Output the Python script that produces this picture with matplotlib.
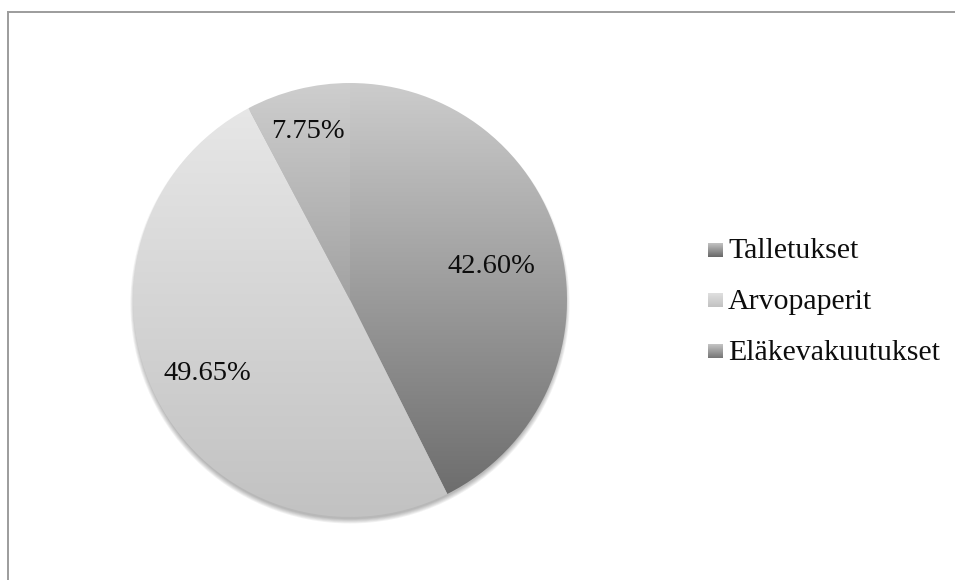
import numpy as np
import matplotlib
matplotlib.use("Agg")
import matplotlib.pyplot as plt
from matplotlib.patches import Circle

categories = ["Talletukset", "Arvopaperit", "Eläkevakuutukset"]
shares = [42.60, 49.65, 7.75]

# grey levels of each slice's vertical gradient (top, bottom)
grad_top = [204, 233, 206]
grad_bottom = [104, 194, 118]
# radial position of each percentage label (fraction of radius)
label_dist = [0.67, 0.74, 0.80]

W, H, DPI = 955, 580, 100
FONT = "Liberation Serif"

fig = plt.figure(figsize=(W / DPI, H / DPI), dpi=DPI)
fig.patch.set_facecolor("white")

cx, cy, r = 350, 300, 217
ax = fig.add_axes([(cx - r) / W, (H - cy - r) / H, 2 * r / W, 2 * r / H])

wedges, _ = ax.pie(shares, startangle=90, counterclock=False, radius=1,
                   wedgeprops=dict(linewidth=0))
ax.set_xlim(-1, 1)
ax.set_ylim(-1, 1)
ax.set_aspect("equal")
ax.axis("off")

# soft drop shadow below the pie
for k in range(6):
    ax.add_patch(Circle((0.0, -0.018), 0.992 + k * 0.004, color="black",
                        alpha=0.05, lw=0, zorder=0, clip_on=False))


def gradient(top, bottom, n=256):
    g = np.linspace(top, bottom, n) / 255.0
    return np.repeat(g[:, None, None], 3, axis=2)


for w, t, b in zip(wedges, grad_top, grad_bottom):
    w.set_facecolor("none")
    w.set_zorder(2)
    im = ax.imshow(gradient(t, b), extent=(-1, 1, -1, 1), origin="upper",
                   aspect="auto", interpolation="bilinear", zorder=1)
    im.set_clip_path(w)

for w, v, d in zip(wedges, shares, label_dist):
    ang = np.deg2rad((w.theta1 + w.theta2) / 2)
    ax.text(d * np.cos(ang), d * np.sin(ang), f"{v:.2f}%", ha="center",
            va="center", fontsize=20.5, family=FONT, color="#0d0d0d", zorder=3)

# overlay in pixel coordinates for legend and frame
ov = fig.add_axes([0, 0, 1, 1], zorder=5)
ov.set_xlim(0, W)
ov.set_ylim(H, 0)
ov.axis("off")
ov.patch.set_alpha(0)

ov.plot([7, W], [11.5, 11.5], color="#9c9c9c", lw=1.4, solid_capstyle="butt")
ov.plot([7.5, 7.5], [11, H], color="#9c9c9c", lw=1.4, solid_capstyle="butt")

leg_x, leg_y0, leg_dy = 708, 250, 50.5
for i, (name, t, b) in enumerate(zip(categories, grad_top, grad_bottom)):
    yc = leg_y0 + i * leg_dy
    ov.imshow(gradient(t - 10, b, 32), extent=(leg_x, leg_x + 15, yc + 7, yc - 7),
              aspect="auto", interpolation="bilinear")
    ov.text(leg_x + 20, yc + 8.5, name, ha="left", va="baseline",
            fontsize=21.5, family=FONT, color="#0d0d0d")
ov.set_xlim(0, W)
ov.set_ylim(H, 0)

fig.savefig("out.png", dpi=DPI, facecolor="white")
